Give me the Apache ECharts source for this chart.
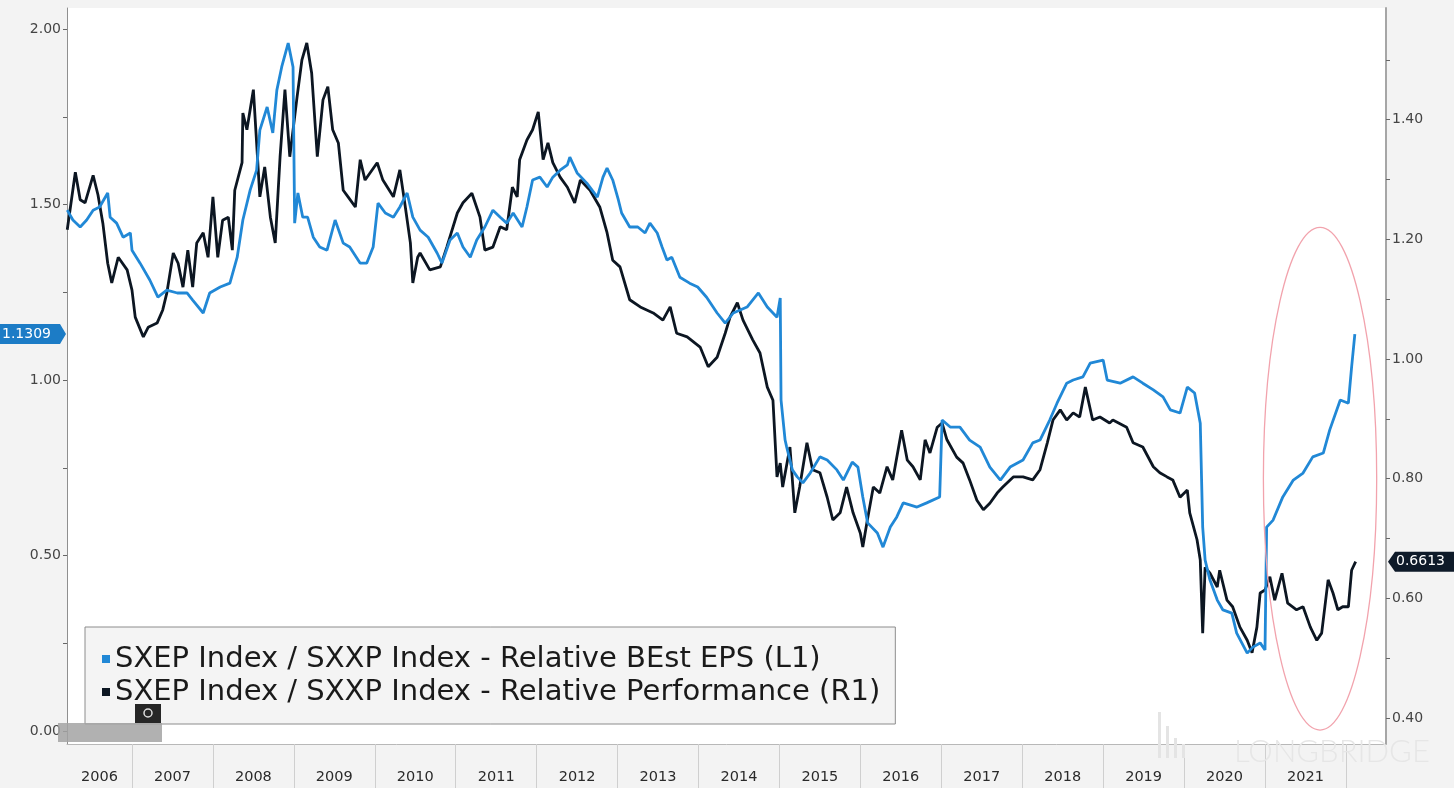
<!DOCTYPE html>
<html><head><meta charset="utf-8">
<script src="https://cdn.jsdelivr.net/npm/echarts@6/dist/echarts.min.js"></script>
<style>html,body{margin:0;padding:0;background:#f3f3f3}#c{width:1454px;height:788px}</style>
</head><body><div id="c"></div><script>
// ---- data (fractional years) ----
const seriesNames = [
  'SXEP Index / SXXP Index - Relative BEst EPS (L1)',
  'SXEP Index / SXXP Index - Relative Performance (R1)'
];
const blueDates = [2006.20,2006.27,2006.36,2006.44,2006.52,2006.60,2006.70,2006.73,2006.81,2006.89,
2006.98,2007.00,2007.10,2007.22,2007.32,2007.43,2007.56,2007.68,2007.75,2007.88,
2007.96,2008.09,2008.21,2008.30,2008.37,2008.46,2008.54,2008.58,2008.67,2008.74,
2008.79,2008.85,2008.93,2008.99,2009.01,2009.05,2009.11,2009.17,2009.24,2009.32,
2009.41,2009.51,2009.61,2009.69,2009.82,2009.90,2009.98,2010.04,2010.13,2010.23,
2010.31,2010.40,2010.47,2010.56,2010.66,2010.77,2010.83,2010.93,2011.02,2011.09,
2011.18,2011.26,2011.36,2011.46,2011.55,2011.63,2011.71,2011.82,2011.88,2011.95,
2012.04,2012.13,2012.20,2012.29,2012.38,2012.41,2012.50,2012.62,2012.75,2012.82,
2012.87,2012.94,2013.01,2013.05,2013.15,2013.25,2013.34,2013.40,2013.49,2013.55,
2013.61,2013.67,2013.77,2013.89,2013.99,2014.10,2014.23,2014.33,2014.43,2014.60,
2014.74,2014.85,2014.97,2015.01,2015.02,2015.07,2015.09,2015.16,2015.22,2015.29,
2015.38,2015.50,2015.59,2015.71,2015.79,2015.90,2015.97,2016.03,2016.09,2016.21,
2016.28,2016.37,2016.45,2016.53,2016.70,2016.82,2016.98,2017.01,2017.11,2017.23,
2017.35,2017.48,2017.60,2017.73,2017.85,2018.01,2018.13,2018.22,2018.34,2018.43,
2018.55,2018.63,2018.75,2018.84,2019.00,2019.05,2019.21,2019.37,2019.49,2019.62,
2019.74,2019.83,2019.95,2020.04,2020.13,2020.20,2020.23,2020.26,2020.32,2020.41,
2020.48,2020.59,2020.65,2020.78,2020.85,2020.94,2021.00,2021.02,2021.10,2021.22,
2021.35,2021.47,2021.59,2021.72,2021.80,2021.93,2022.03,2022.07,2022.11];
const blueValues = [1.484,1.456,1.436,1.456,1.484,1.493,1.533,1.464,1.447,1.407,
1.419,1.370,1.333,1.285,1.236,1.256,1.248,1.248,1.228,1.191,
1.248,1.265,1.276,1.350,1.456,1.541,1.598,1.712,1.778,1.704,
1.826,1.892,1.960,1.892,1.447,1.533,1.464,1.464,1.407,1.379,
1.370,1.456,1.390,1.379,1.333,1.333,1.379,1.504,1.476,1.464,
1.493,1.533,1.464,1.427,1.407,1.362,1.333,1.399,1.419,1.379,
1.350,1.399,1.436,1.484,1.464,1.447,1.476,1.436,1.493,1.570,
1.578,1.550,1.578,1.598,1.613,1.635,1.590,1.561,1.521,1.578,
1.604,1.570,1.513,1.476,1.436,1.436,1.419,1.447,1.419,1.379,
1.342,1.350,1.293,1.276,1.265,1.236,1.191,1.162,1.191,1.208,
1.248,1.208,1.179,1.234,0.943,0.829,0.809,0.744,0.724,0.707,
0.735,0.781,0.772,0.744,0.715,0.766,0.752,0.667,0.593,0.564,
0.524,0.581,0.610,0.650,0.638,0.650,0.667,0.886,0.866,0.866,
0.829,0.809,0.752,0.715,0.752,0.772,0.821,0.829,0.886,0.934,
0.991,1.000,1.009,1.048,1.057,1.000,0.991,1.009,0.991,0.972,
0.952,0.915,0.906,0.980,0.963,0.877,0.581,0.487,0.430,0.373,
0.345,0.336,0.279,0.222,0.239,0.251,0.231,0.581,0.601,0.667,
0.715,0.735,0.781,0.792,0.858,0.943,0.934,1.037,1.1309];
const blackDates = [2006.20,2006.30,2006.36,2006.42,2006.52,2006.58,2006.64,2006.70,2006.75,2006.83,
2006.94,2007.00,2007.04,2007.14,2007.20,2007.31,2007.38,2007.43,2007.51,2007.57,
2007.63,2007.69,2007.75,2007.80,2007.88,2007.94,2008.00,2008.06,2008.12,2008.19,
2008.24,2008.27,2008.36,2008.37,2008.42,2008.50,2008.54,2008.58,2008.64,2008.71,
2008.77,2008.83,2008.89,2008.95,2009.04,2009.10,2009.16,2009.22,2009.29,2009.36,
2009.42,2009.48,2009.55,2009.61,2009.67,2009.76,2009.82,2009.88,2010.03,2010.10,
2010.23,2010.31,2010.37,2010.44,2010.47,2010.53,2010.56,2010.68,2010.81,2010.89,
2011.02,2011.09,2011.20,2011.30,2011.36,2011.46,2011.55,2011.63,2011.70,2011.76,
2011.79,2011.88,2011.95,2012.02,2012.08,2012.14,2012.20,2012.29,2012.38,2012.47,
2012.54,2012.66,2012.78,2012.87,2012.94,2013.03,2013.15,2013.28,2013.44,2013.56,
2013.65,2013.73,2013.86,2014.02,2014.12,2014.23,2014.33,2014.39,2014.48,2014.55,
2014.67,2014.76,2014.85,2014.92,2014.97,2015.01,2015.04,2015.13,2015.19,2015.25,
2015.34,2015.41,2015.50,2015.59,2015.66,2015.75,2015.83,2015.91,2016.00,2016.03,
2016.08,2016.16,2016.24,2016.33,2016.40,2016.51,2016.58,2016.65,2016.74,2016.80,
2016.86,2016.95,2017.01,2017.07,2017.19,2017.27,2017.35,2017.44,2017.52,2017.60,
2017.69,2017.76,2017.89,2018.01,2018.13,2018.22,2018.31,2018.38,2018.47,2018.55,
2018.63,2018.71,2018.78,2018.87,2018.96,2019.08,2019.12,2019.29,2019.37,2019.49,
2019.62,2019.70,2019.79,2019.86,2019.95,2020.04,2020.07,2020.16,2020.20,2020.23,
2020.26,2020.32,2020.41,2020.44,2020.53,2020.60,2020.69,2020.78,2020.84,2020.90,
2020.94,2021.00,2021.06,2021.12,2021.21,2021.28,2021.39,2021.47,2021.56,2021.64,
2021.70,2021.78,2021.84,2021.90,2021.96,2022.03,2022.07,2022.12];
const blackValues = [1.216,1.312,1.266,1.261,1.307,1.274,1.227,1.160,1.127,1.170,
1.149,1.115,1.070,1.037,1.053,1.060,1.082,1.110,1.177,1.160,
1.120,1.182,1.120,1.194,1.211,1.170,1.271,1.170,1.232,1.237,
1.182,1.282,1.328,1.411,1.383,1.450,1.361,1.271,1.321,1.237,
1.194,1.338,1.450,1.338,1.438,1.500,1.528,1.478,1.338,1.433,
1.455,1.383,1.361,1.282,1.271,1.254,1.333,1.299,1.328,1.299,
1.271,1.316,1.261,1.194,1.127,1.170,1.177,1.149,1.154,1.187,
1.244,1.261,1.277,1.237,1.182,1.187,1.221,1.216,1.287,1.271,
1.333,1.366,1.383,1.413,1.333,1.361,1.328,1.304,1.287,1.261,
1.299,1.282,1.254,1.211,1.165,1.154,1.099,1.087,1.077,1.065,
1.087,1.043,1.037,1.020,0.987,1.003,1.043,1.070,1.094,1.065,
1.032,1.010,0.953,0.931,0.803,0.826,0.786,0.853,0.743,0.786,
0.860,0.815,0.810,0.769,0.731,0.743,0.786,0.743,0.709,0.686,
0.726,0.786,0.776,0.820,0.798,0.881,0.831,0.820,0.798,0.865,
0.843,0.886,0.893,0.865,0.836,0.826,0.798,0.764,0.748,0.759,
0.776,0.786,0.803,0.803,0.798,0.815,0.860,0.898,0.915,0.898,
0.910,0.903,0.953,0.898,0.903,0.893,0.898,0.886,0.860,0.853,
0.820,0.810,0.803,0.798,0.769,0.781,0.743,0.698,0.664,0.542,
0.652,0.642,0.619,0.647,0.597,0.586,0.552,0.530,0.509,0.552,
0.609,0.614,0.636,0.597,0.642,0.592,0.581,0.586,0.552,0.530,
0.542,0.631,0.609,0.581,0.586,0.586,0.647,0.6613];
const leftTicks = [0, 0.5, 1.0, 1.5, 2.0];
const leftMinorTicks = [0, 0.25, 0.5, 0.75, 1.0, 1.25, 1.5, 1.75, 2.0];
const rightTicks = [0.4, 0.6, 0.8, 1.0, 1.2, 1.4];
const rightMinorTicks = [0.4, 0.5, 0.6, 0.7, 0.8, 0.9, 1.0, 1.1, 1.2, 1.3, 1.4, 1.5];
const yearBreaks = [2007,2008,2009,2010,2011,2012,2013,2014,2015,2016,2017,2018,2019,2020,2021,2022];
const yearLabels = [2006,2007,2008,2009,2010,2011,2012,2013,2014,2015,2016,2017,2018,2019,2020,2021];
// axis extents
const xMin = 2006.197, xMax = 2022.495;
const leftMin = -0.037, leftMax = 2.06;
const rightMin = 0.3567, rightMax = 1.5865;
// annotation ellipse (data coords on right axis)
const ellipseCenter = [2021.68, 0.80], ellipseHalfW = 0.70, ellipseHalfH = 0.42;

const BLUE = '#2188d6', BLACK = '#0c1622';
const FONT = 'DejaVu Sans';

const labelPositions = yearLabels.map((y, i) => i === 0 ? (xMin + 2007) / 2 : y + 0.5);

const chart = echarts.init(document.getElementById('c'), null, {renderer: 'canvas'});
chart.setOption({
  animation: false,
  backgroundColor: '#f3f3f3',
  grid: {left: 67, right: 68, top: 8, bottom: 44, show: true, backgroundColor: '#ffffff', borderWidth: 0},
  legend: {
    data: seriesNames,
    orient: 'vertical', left: 85, top: 627,
    backgroundColor: '#f4f4f4', borderColor: '#8c8c8c', borderWidth: 1,
    padding: [16, 15, 16, 17], itemGap: 1,
    icon: 'rect', itemWidth: 8, itemHeight: 8,
    textStyle: {fontFamily: FONT, fontSize: 29, color: '#1a1a1a', lineHeight: 32},
    selectedMode: false
  },
  xAxis: {
    type: 'value', min: xMin, max: xMax,
    axisLine: {onZero: false, lineStyle: {color: '#b8b8b8', width: 1}},
    axisTick: {show: true, customValues: yearBreaks, length: 44, lineStyle: {color: '#cfcfcf'}},
    axisLabel: {customValues: labelPositions, formatter: v => String(Math.floor(v)), margin: 26,
      fontFamily: FONT, fontSize: 14.5, color: '#2a2a2a'},
    splitLine: {show: false}
  },
  yAxis: [{
    type: 'value', position: 'left', min: leftMin, max: leftMax,
    axisLine: {show: true, lineStyle: {color: '#8f8f8f', width: 1}},
    axisTick: {show: true, customValues: leftMinorTicks, length: 4, lineStyle: {color: '#666'}},
    axisLabel: {customValues: leftTicks, formatter: v => v.toFixed(2), margin: 6,
      fontFamily: FONT, fontSize: 14, color: '#444'},
    splitLine: {show: false}
  }, {
    type: 'value', position: 'right', min: rightMin, max: rightMax,
    axisLine: {show: true, lineStyle: {color: '#a6a6a6', width: 2}},
    axisTick: {show: true, customValues: rightMinorTicks, length: 4, lineStyle: {color: '#666'}},
    axisLabel: {customValues: rightTicks, formatter: v => v.toFixed(2), margin: 6,
      fontFamily: FONT, fontSize: 14, color: '#444'},
    splitLine: {show: false}
  }],
  series: [{
    name: seriesNames[1], type: 'line', yAxisIndex: 1, z: 2,
    data: blackDates.map((d, i) => [d, blackValues[i]]),
    showSymbol: false, symbol: 'none', itemStyle: {color: BLACK},
    lineStyle: {color: BLACK, width: 2.8}
  }, {
    name: seriesNames[0], type: 'line', yAxisIndex: 0, z: 3,
    data: blueDates.map((d, i) => [d, blueValues[i]]),
    showSymbol: false, symbol: 'none', itemStyle: {color: BLUE},
    lineStyle: {color: BLUE, width: 2.8}
  }]
});

// annotations positioned through the chart's own scales
const lastBlue = blueValues[blueValues.length - 1];
const lastBlack = blackValues[blackValues.length - 1];
const yb = chart.convertToPixel({yAxisIndex: 0}, lastBlue);
const yk = chart.convertToPixel({yAxisIndex: 1}, lastBlack);
const c = chart.convertToPixel({xAxisIndex: 0, yAxisIndex: 1}, ellipseCenter);
const e = chart.convertToPixel({xAxisIndex: 0, yAxisIndex: 1}, [ellipseCenter[0] + ellipseHalfW, ellipseCenter[1] + ellipseHalfH]);
const gl = chart.convertToPixel({xAxisIndex: 0}, xMin);
const gr = chart.convertToPixel({xAxisIndex: 0}, xMax);

chart.setOption({
  graphic: [
    {type: 'ellipse', shape: {cx: c[0], cy: c[1], rx: Math.abs(e[0] - c[0]), ry: Math.abs(c[1] - e[1])},
      style: {fill: 'none', stroke: '#f2a3ad', lineWidth: 1.3}, z: 50},
    {type: 'polygon', shape: {points: [[0, yb - 10], [gl - 7, yb - 10], [gl - 1, yb], [gl - 7, yb + 10], [0, yb + 10]]},
      style: {fill: '#1c7cc6'}, z: 60},
    {type: 'text', x: 2, y: yb, style: {text: lastBlue.toFixed(4), fill: '#fff', font: '14px ' + FONT, verticalAlign: 'middle'}, z: 61},
    {type: 'polygon', shape: {points: [[gr + 2, yk], [gr + 9, yk - 10], [1454, yk - 10], [1454, yk + 10], [gr + 9, yk + 10]]},
      style: {fill: '#0e1a29'}, z: 60},
    {type: 'text', x: gr + 10, y: yk, style: {text: lastBlack.toFixed(4), fill: '#fff', font: '14px ' + FONT, verticalAlign: 'middle'}, z: 61},
    // screenshot toolbar artefact
    {type: 'rect', shape: {x: 58, y: 723, width: 104, height: 19}, style: {fill: '#a3a3a3', opacity: 0.85}, z: 70},
    {type: 'rect', shape: {x: 135, y: 704, width: 26, height: 19}, style: {fill: '#262626'}, z: 70},
    {type: 'circle', shape: {cx: 148, cy: 713, r: 4}, style: {fill: 'none', stroke: '#ddd', lineWidth: 1.5}, z: 71},
    // watermark
    {type: 'rect', shape: {x: 1158, y: 712, width: 3, height: 46}, style: {fill: '#e4e4e4'}, z: 40},
    {type: 'rect', shape: {x: 1166, y: 726, width: 3, height: 32}, style: {fill: '#e4e4e4'}, z: 40},
    {type: 'rect', shape: {x: 1174, y: 738, width: 3, height: 20}, style: {fill: '#e4e4e4'}, z: 40},
    {type: 'rect', shape: {x: 1182, y: 744, width: 3, height: 14}, style: {fill: '#e4e4e4'}, z: 40},
    {type: 'text', x: 1234, y: 752, style: {text: 'LONGBRIDGE', fill: '#e6e6e6', font: '300 31px Lato', verticalAlign: 'middle'}, z: 40}
  ]
});
</script></body></html>
